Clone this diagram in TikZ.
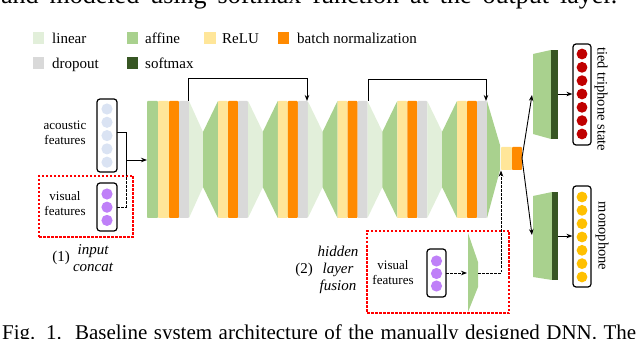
\documentclass[tikz,border=0pt]{standalone}
\usepackage{fontspec}
\setmainfont{Liberation Serif}
\usetikzlibrary{arrows.meta}
\definecolor{clin}{HTML}{E2EFDA}
\definecolor{caff}{HTML}{A9D18E}
\definecolor{crelu}{HTML}{FFE699}
\definecolor{cbn}{HTML}{FF8A00}
\definecolor{cdrop}{HTML}{D9D9D9}
\definecolor{csoft}{HTML}{375623}
\definecolor{cac}{HTML}{DAE3F3}
\definecolor{cvis}{HTML}{BF80F8}
\definecolor{cred}{HTML}{C00000}
\definecolor{cyel}{HTML}{FFC000}
\begin{document}
\begin{tikzpicture}[x=1pt,y=-1pt,
  layer/.style={rounded corners=0.8pt},
  featbox/.style={draw=black, line width=1.2pt, rounded corners=3pt, minimum width=20pt, inner sep=0pt},
  conn/.style={line width=0.9pt, -{Stealth[length=6pt,width=4.5pt]}},
  plainline/.style={line width=0.9pt},
  dconn/.style={line width=0.9pt, dash pattern=on 2.5pt off 1.5pt},
  dconnarr/.style={dconn, -{Stealth[length=6pt,width=4.5pt]}},
  redbox/.style={draw=red, line width=1.1pt, dash pattern=on 2.5pt off 1.5pt},
  lbl/.style={inner sep=0pt, font=\fontsize{13}{15.5}\selectfont, align=center},
  ilbl/.style={inner sep=0pt, font=\fontsize{15}{17}\selectfont\itshape, align=center},
  leg/.style={inner sep=0pt, anchor=base west, font=\fontsize{15}{18}\selectfont},
  outlbl/.style={inner sep=0pt, font=\fontsize{14.5}{17}\selectfont, rotate=-90},
]
\useasboundingbox (0,0) rectangle (640,339);
\clip (0,0) rectangle (640,339);

% captions (cut by the frame)
\node[anchor=base west, inner sep=0pt, font=\fontsize{26}{30}\selectfont] (captop) at (1,4)
  {\makebox[616pt][s]{and modeled using softmax function at the output layer.}};
\node[anchor=base west, inner sep=0pt, font=\fontsize{21}{25}\selectfont] (capbot) at (2,339.5)
  {\makebox[634pt][s]{Fig. 1.\ \ Baseline system architecture of the manually designed DNN. The}};

% legend
\fill[clin] (33,32) rectangle (44,44);
\node[leg] (lglin) at (52,44) {linear};
\fill[caff] (127,32) rectangle (138,44);
\node[leg] (lgaff) at (145,44) {affine};
\fill[crelu] (204,32) rectangle (216,44);
\node[leg] (lgrelu) at (222,44) {ReLU};
\fill[cbn] (278,32) rectangle (289,44);
\node[leg] (lgbn) at (297,44) {batch normalization};
\fill[cdrop] (33,57) rectangle (44,69.5);
\node[leg] (lgdrop) at (52,68.5) {dropout};
\fill[csoft] (127,57) rectangle (138,69.5);
\node[leg] (lgsoft) at (145,68.5) {softmax};

% block 1
\fill[caff,layer] (147,101) rectangle (158,218);
\fill[crelu,layer] (158,101) rectangle (169,218);
\fill[cbn,layer] (169,101) rectangle (179,218);
\fill[cdrop,layer] (179,101) rectangle (189,218);
\fill[clin] (189,101) -- (203,132) -- (203,187) -- (189,218) -- cycle;
% blocks 2-5
\foreach \s in {203,262.75,322.5,382.25}{
  \fill[caff] (\s,132) -- (\s+15,101) -- (\s+15,218) -- (\s,187) -- cycle;
  \fill[crelu,layer] (\s+15,101) rectangle (\s+25,218);
  \fill[cbn,layer] (\s+25,101) rectangle (\s+35,218);
  \fill[cdrop,layer] (\s+35,101) rectangle (\s+45,218);
  \fill[clin] (\s+45,101) -- (\s+60,132) -- (\s+60,187) -- (\s+45,218) -- cycle;
}
% block 6
\fill[caff] (442,132) -- (457,101) -- (457,218) -- (442,187) -- cycle;
\fill[crelu,layer] (457,101) rectangle (467,218);
\fill[cbn,layer] (467,101) rectangle (477,218);
\fill[cdrop,layer] (477,101) rectangle (487,218);
\fill[caff] (487,101) -- (500,145) -- (500,170) -- (487,218) -- cycle;
\fill[crelu,layer] (501,147) rectangle (512,170);
\fill[cbn,layer] (512,147) rectangle (522,170);

% skip connections
\coordinate (s1a) at (188,101);
\coordinate (s1b) at (307,101);
\coordinate (s2a) at (368,101);
\coordinate (s2b) at (486,101);
\draw[conn] (s1a) -- (188,78) -- (307,78) -- (s1b);
\draw[conn] (s2a) -- (368,79) -- (486,79) -- (s2b);

% input features
\node[featbox, minimum height=73pt] (ac) at (107,135.5) {};
\foreach \y in {109,122.3,135.6,148.9,162.2} \fill[cac] (107,\y) circle[radius=5.6pt];
\node[featbox, minimum height=48pt] (vis) at (107,207) {};
\foreach \y in {194,207.2,220.4} \fill[cvis] (107,\y) circle[radius=5.6pt];
\node[lbl] (actxt) at (65,133) {acoustic\\features};
\node[lbl] (vistxt) at (65,203.5) {visual\\features};
\node[redbox, minimum width=94pt, minimum height=61pt, inner sep=0pt] (rb1) at (86,206.5) {};
\coordinate (acout) at (117,132);
\coordinate (visout) at (117,207);
\coordinate (join) at (126,176);
\coordinate (in1) at (147,160);
\draw[plainline] (acout) -- (126,132) -- (join);
\draw[dconn] (visout) -- (126,207) -- (join);
\draw[conn] (126,160) -- (in1);
\node[inner sep=0pt, font=\fontsize{15}{17}\selectfont] (n1) at (61,258) {(1)};
\node[ilbl] (concat) at (93,258) {input\\concat};

% hidden layer fusion
\node[redbox, minimum width=142pt, minimum height=82pt, inner sep=0pt] (rb2) at (438,272) {};
\node[featbox, minimum width=19pt, minimum height=48pt] (vis2) at (436.5,273) {};
\foreach \y in {261,273.5,286} \fill[cvis] (436.5,\y) circle[radius=5.6pt];
\node[lbl] (vis2txt) at (393,272.5) {visual\\features};
\fill[caff] (468,233) -- (478,262) -- (478,287) -- (468,312) -- cycle;
\coordinate (v2out) at (446,273);
\coordinate (fin) at (467,273);
\coordinate (fout) at (478,273);
\coordinate (fup) at (501,170.5);
\draw[dconnarr] (v2out) -- (fin);
\draw[dconnarr] (fout) -- (501,273) -- (fup);
\node[inner sep=0pt, font=\fontsize{15}{17}\selectfont] (n2) at (304,270) {(2)};
\node[ilbl] (hlf) at (338,270) {hidden\\layer\\fusion};

% output layers
\fill[caff] (533,54) -- (551,50) -- (551,139) -- (533,134) -- cycle;
\fill[csoft] (551,50) rectangle (558,139);
\fill[caff] (533,196) -- (552,192) -- (552,280) -- (533,277) -- cycle;
\fill[csoft] (552,192) rectangle (558,280);
\coordinate (split) at (522,158);
\coordinate (up) at (532,95);
\coordinate (dn) at (532,235);
\draw[conn] (split) -- (up);
\draw[conn] (split) -- (dn);

\node[featbox, minimum width=18pt, minimum height=101pt] (tri) at (582,94.5) {};
\foreach \k in {0,...,6} \fill[cred] (582,54+13.33*\k) circle[radius=5.4pt];
\node[featbox, minimum width=18pt, minimum height=101pt] (mono) at (582,236.5) {};
\foreach \k in {0,...,6} \fill[cyel] (582,197+13.33*\k) circle[radius=5.4pt];
\coordinate (sm1) at (558,94);
\coordinate (sm2) at (558,236);
\draw[conn] (sm1) -- (tri.west |- sm1);
\draw[conn] (sm2) -- (mono.west |- sm2);
\node[outlbl] (tritxt) at (601,99) {tied triphone state};
\node[outlbl] (monotxt) at (602,236) {monophone};
\end{tikzpicture}
\end{document}
